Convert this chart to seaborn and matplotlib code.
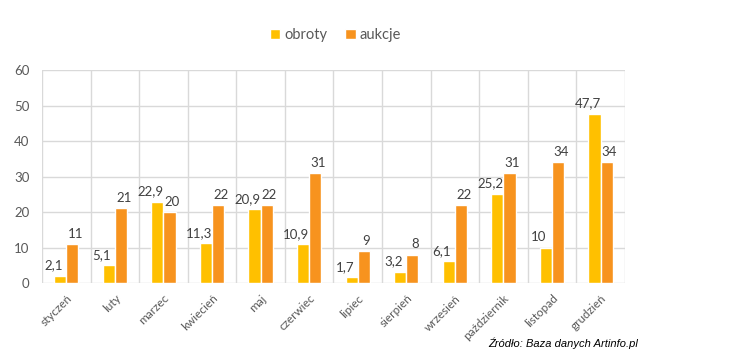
import pandas as pd
import numpy as np
import seaborn as sns
import matplotlib.pyplot as plt
from matplotlib.ticker import MultipleLocator, FixedLocator

# --- DANE ---
miesiace = ["styczeń", "luty", "marzec", "kwiecień", "maj", "czerwiec",
            "lipiec", "sierpień", "wrzesień", "październik", "listopad", "grudzień"]
obroty = [2.1, 5.1, 22.9, 11.3, 20.9, 10.9, 1.7, 3.2, 6.1, 25.2, 10, 47.7]
aukcje = [11, 21, 20, 22, 22, 31, 9, 8, 22, 31, 34, 34]

df = pd.DataFrame({
    "miesiac": miesiace * 2,
    "wartosc": obroty + aukcje,
    "seria": ["obroty"] * len(miesiace) + ["aukcje"] * len(miesiace),
})

sns.set_theme(style="white")
plt.rcParams['font.family'] = ['Lato', 'DejaVu Sans']

fig = plt.figure(figsize=(7.3, 3.54), dpi=100)
ax = fig.add_axes([0.0575, 0.2006, 0.7985, 0.6014])

sns.barplot(data=df, x="miesiac", y="wartosc", hue="seria", order=miesiace,
            hue_order=["obroty", "aukcje"], palette=["#FFC000", "#F7931E"],
            width=0.5, gap=0, saturation=1, ax=ax, legend=True)

# etykiety wartości z przecinkiem (obroty lekko w lewo, jak w Excelu)
for cont, dx in zip(ax.containers, [-5, 2]):
    labs = [f"{v:g}".replace(".", ",") for v in cont.datavalues]
    txts = ax.bar_label(cont, labels=labs, padding=3, fontsize=9.5, color="#404040")
    for t in txts:
        x, y = t.xyann
        t.xyann = (x + dx, y)

ax.set_ylim(0, 60)
ax.set_xlim(-0.5, len(miesiace) - 0.5)
ax.yaxis.set_major_locator(MultipleLocator(10))
ax.xaxis.set_minor_locator(FixedLocator(np.arange(-0.5, len(miesiace), 1)))
ax.grid(axis="y", which="major", color="#D9D9D9", linewidth=1)
ax.grid(axis="x", which="minor", color="#D9D9D9", linewidth=1)
ax.set_axisbelow(True)
for s in ax.spines.values():
    s.set_visible(False)
ax.set_xlabel("")
ax.set_ylabel("")
ax.tick_params(axis="both", length=0)
ax.tick_params(axis="y", labelsize=9.5, labelcolor="#595959", pad=9)
plt.setp(ax.get_xticklabels(), rotation=45, ha="right", rotation_mode="anchor",
         fontsize=8.5, color="#595959")
ax.tick_params(axis="x", pad=7)

ax.legend(loc="center", bbox_to_anchor=(0.46, 0.90), bbox_transform=fig.transFigure,
          ncol=2, frameon=False, fontsize=10.5, handlelength=0.7, handleheight=0.7,
          handletextpad=0.3, columnspacing=1.2, labelcolor="#595959")

fig.text(0.874, 0.03, "Źródło: Baza danych Artinfo.pl", ha="right", va="center",
         fontsize=8, style="italic", family="Liberation Sans", color="black")

fig.savefig("out.png", dpi=100)
